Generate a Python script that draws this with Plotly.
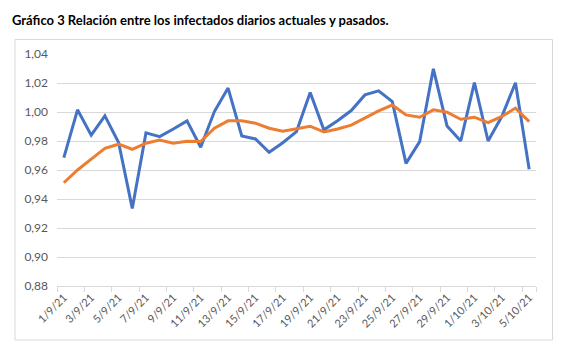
import plotly.graph_objects as go

dates = ["1/9/21","2/9/21","3/9/21","4/9/21","5/9/21","6/9/21","7/9/21","8/9/21","9/9/21","10/9/21",
         "11/9/21","12/9/21","13/9/21","14/9/21","15/9/21","16/9/21","17/9/21","18/9/21","19/9/21","20/9/21",
         "21/9/21","22/9/21","23/9/21","24/9/21","25/9/21","26/9/21","27/9/21","28/9/21","29/9/21","30/9/21",
         "1/10/21","2/10/21","3/10/21","4/10/21","5/10/21"]
diario = [0.9685,1.0015,0.984,0.9973,0.979,0.9335,0.9856,0.983,0.9883,0.9939,
          0.9757,1.0003,1.0165,0.9835,0.9814,0.9722,0.9788,0.9865,1.0135,0.9877,
          0.994,1.001,1.0118,1.0146,1.0072,0.9646,0.9796,1.0298,0.9904,0.980,
          1.0202,0.980,0.9969,1.0202,0.9605]
media = [0.9512,0.960,0.9675,0.9750,0.9778,0.9743,0.9785,0.9807,0.9785,0.9798,
         0.9796,0.9888,0.9939,0.9939,0.9923,0.9888,0.9868,0.9883,0.9902,0.9863,
         0.9883,0.9909,0.9957,1.0008,1.0048,0.998,0.9964,1.0015,0.9999,0.995,
         0.9964,0.9927,0.9969,1.0027,0.9934]
yticks = [0.88,0.90,0.92,0.94,0.96,0.98,1.00,1.02,1.04]
title = "Gráfico 3 Relación entre los infectados diarios actuales y pasados."

W, H = 562, 352
L, R, T, B = 57, 26, 54, 66

fig = go.Figure()
fig.add_trace(go.Scatter(x=dates, y=diario, mode="lines",
                         line=dict(color="#4472C4", width=3), showlegend=False))
fig.add_trace(go.Scatter(x=dates, y=media, mode="lines",
                         line=dict(color="#ED7D31", width=3), showlegend=False))

pw, ph = W - L - R, H - T - B
def px2paper(x, y):
    return (x - L) / pw, (H - B - y) / ph

x0, y0 = px2paper(15, 340)
x1, y1 = px2paper(552.5, 39.5)
fig.add_shape(type="rect", xref="paper", yref="paper", x0=x0, y0=y0, x1=x1, y1=y1,
              line=dict(color="#d9d9d9", width=1), fillcolor="rgba(0,0,0,0)", layer="below")

fig.update_layout(
    width=W, height=H,
    margin=dict(l=L, r=R, t=T, b=B),
    paper_bgcolor="white", plot_bgcolor="white",
    separators=",.",
    font=dict(family="Lato, sans-serif", color="#595959", size=11),
    title=dict(text="<b>" + title + "</b>", xref="container", yref="container",
               x=12 / W, xanchor="left", y=1 - 20 / H, yanchor="middle",
               font=dict(family="Lato, sans-serif", size=13, color="#000000")),
)
fig.update_xaxes(type="category", tickmode="array", tickvals=dates[::2], ticktext=dates[::2],
                 tickson="boundaries", ticks="outside", ticklen=5, tickcolor="#d9d9d9",
                 tickangle=-45, showgrid=False, showline=True, linecolor="#d9d9d9",
                 range=[-0.5, len(dates) - 0.5], tickfont=dict(size=11, color="#595959"))
fig.update_yaxes(range=[0.88, 1.04], tickvals=yticks, tickformat=".2f",
                 showgrid=True, gridcolor="#d9d9d9", gridwidth=1, zeroline=False,
                 showline=False, ticks="", ticklabelstandoff=8,
                 tickfont=dict(size=12, color="#595959"))

fig.write_html("out.html")
